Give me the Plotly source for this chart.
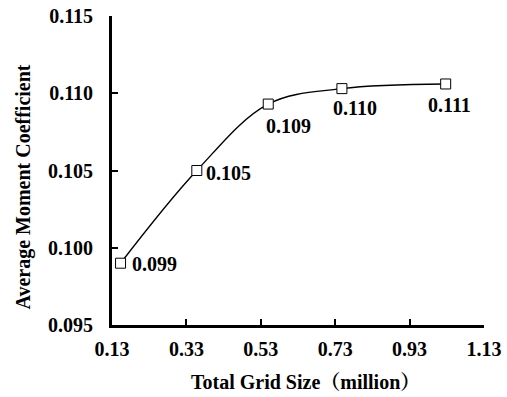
import plotly.graph_objects as go

grid_size = [0.153, 0.358, 0.550, 0.748, 1.027]
moment = [0.0990, 0.1050, 0.1093, 0.1103, 0.1106]
labels = ["0.099", "0.105", "0.109", "0.110", "0.111"]
x_ticks = [0.13, 0.33, 0.53, 0.73, 0.93, 1.13]
y_ticks = [0.095, 0.100, 0.105, 0.110, 0.115]
x_title = "Total Grid Size（million）"
y_title = "Average Moment Coefficient"

# label placement styles (anchor, shifts in px)
label_style = [
    dict(xanchor="left", yanchor="middle", xshift=9, yshift=-1),
    dict(xanchor="left", yanchor="middle", xshift=7, yshift=-2),
    dict(xanchor="left", yanchor="top", xshift=-4, yshift=-9),
    dict(xanchor="center", yanchor="top", xshift=13, yshift=-6),
    dict(xanchor="center", yanchor="top", xshift=4, yshift=-8),
]

font_family = "Liberation Serif, Times New Roman, Noto Serif CJK SC, Noto Sans CJK SC, serif"

fig = go.Figure()
fig.add_trace(go.Scatter(
    x=grid_size, y=moment,
    mode="lines+markers",
    line=dict(color="black", width=1.4, shape="spline", smoothing=1.0),
    marker=dict(symbol="square", size=10, color="white", line=dict(width=1, color="black")),
    cliponaxis=False,
    showlegend=False,
))

for xv, yv, t, st in zip(grid_size, moment, labels, label_style):
    fig.add_annotation(
        x=xv, y=yv, text="<b>%s</b>" % t, showarrow=False,
        font=dict(family=font_family, size=20, color="black"),
        **st,
    )

# axis titles
fig.add_annotation(
    xref="paper", yref="paper", x=0.5215, y=-0.1845, text="<b>%s</b>" % x_title,
    showarrow=False, xanchor="center", yanchor="middle",
    font=dict(family=font_family, size=20, color="black"),
)
fig.add_annotation(
    xref="paper", yref="paper", x=-0.2366, y=0.448, text="<b>%s</b>" % y_title,
    showarrow=False, xanchor="center", yanchor="middle", textangle=-90,
    font=dict(family=font_family, size=20, color="black"),
)

fig.update_layout(
    template="none",
    width=507, height=397,
    margin=dict(l=112, r=23, t=16, b=72),
    paper_bgcolor="white", plot_bgcolor="white",
    font=dict(family=font_family, size=20, color="black"),
)
fig.update_xaxes(
    range=[0.13, 1.13], tickvals=x_ticks, ticktext=["<b>%.2f</b>" % v for v in x_ticks],
    tickfont=dict(color="black"),
    showline=True, linecolor="black", linewidth=2.8, mirror=False,
    ticks="inside", ticklen=6, tickwidth=1.5, tickcolor="black",
    showgrid=False, zeroline=False, ticklabelstandoff=4, automargin=False,
)
fig.update_yaxes(
    range=[0.095, 0.115], tickvals=y_ticks, ticktext=["<b>%.3f</b>" % v for v in y_ticks],
    tickfont=dict(color="black"),
    showline=True, linecolor="black", linewidth=2.8, mirror=False,
    ticks="inside", ticklen=6, tickwidth=1.5, tickcolor="black",
    showgrid=False, zeroline=False, ticklabelstandoff=12, automargin=False,
)

fig.write_html("out.html")
